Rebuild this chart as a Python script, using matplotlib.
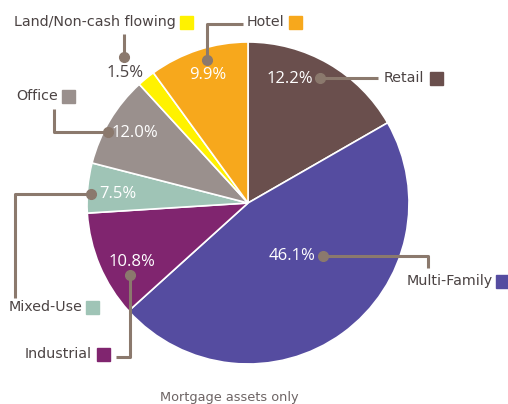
import matplotlib
matplotlib.use("Agg")
import matplotlib.pyplot as plt
from matplotlib.patches import Rectangle

categories = ["Retail", "Multi-Family", "Industrial", "Mixed-Use", "Office",
              "Land/Non-cash flowing", "Hotel"]
# printed percentages
pct_labels = ["12.2%", "46.1%", "10.8%", "7.5%", "12.0%", "1.5%", "9.9%"]
# slice sizes as drawn in the picture (the artwork is not exactly to scale)
slice_shares = [16.7, 46.6, 10.7, 5.0, 9.2, 1.8, 10.0]
colors = ["#6a4f4d", "#554ca0", "#80256f", "#9fc4b6", "#9a908d", "#fff200", "#f7a81c"]
footer = "Mortgage assets only"

W, H = 508, 404
fig = plt.figure(figsize=(W / 100, H / 100), dpi=100)
ax = fig.add_axes([0, 0, 1, 1])

def Y(y):
    return H - y

LBL_FONT = "DejaVu Sans"
PCT_FONT = "Open Sans"
TXT = "#4b4343"
LEAD = "#8b796d"

ax.pie(slice_shares, colors=colors, startangle=90, counterclock=False,
       center=(248, Y(203)), radius=161,
       wedgeprops=dict(edgecolor="white", linewidth=1.2), frame=True)
ax.set_xlim(0, W)
ax.set_ylim(0, H)
ax.set_aspect("equal")
ax.axis("off")

def leader(pts, dot):
    xs = [p[0] for p in pts]
    ys = [Y(p[1]) for p in pts]
    ax.plot(xs, ys, color=LEAD, lw=2.2, solid_capstyle="butt", zorder=5)
    ax.plot([dot[0]], [Y(dot[1])], "o", color=LEAD, ms=7, zorder=6)

def legend_label(text, x_text, y, box_x, color, ha="right"):
    ax.text(x_text, Y(y), text, ha=ha, va="center", fontsize=10.3,
            family=LBL_FONT, color=TXT, zorder=7)
    ax.add_patch(Rectangle((box_x, Y(y) - 6.5), 13, 13, color=color, zorder=7))

def pct(text, x, y, color="white"):
    ax.text(x, Y(y), text, ha="left", va="center", fontsize=12, family=PCT_FONT,
            color=color, zorder=7)

# Retail
pct(pct_labels[0], 267, 79)
leader([(320, 78), (378, 78)], (320, 78))
legend_label(categories[0], 384, 78, 430, colors[0], ha="left")

# Multi-Family
pct(pct_labels[1], 269, 256)
leader([(323, 256), (428, 256), (428, 268)], (323, 256))
legend_label(categories[1], 493, 281, 496, colors[1])

# Industrial
pct(pct_labels[2], 109, 262)
leader([(130, 275), (130, 357), (116, 357)], (130, 275))
legend_label(categories[2], 92, 354, 97, colors[2])

# Mixed-Use
pct(pct_labels[3], 99, 194)
leader([(91, 194), (15, 194), (15, 298)], (91, 194))
legend_label(categories[3], 83, 307, 86, colors[3])

# Office
pct(pct_labels[4], 112, 133)
leader([(54, 109), (54, 132), (108, 132)], (108, 132))
legend_label(categories[4], 58, 96, 62, colors[4])

# Land
pct(pct_labels[5], 107, 73, color=TXT)
leader([(124, 34), (124, 57)], (124, 57))
legend_label(categories[5], 176, 22, 180, colors[5])

# Hotel
pct(pct_labels[6], 189, 75)
leader([(243, 24), (207, 24), (207, 60)], (207, 60))
legend_label(categories[6], 247, 22, 289, colors[6], ha="left")

ax.text(229, Y(398), footer, ha="center", va="center", fontsize=9.3,
        family=LBL_FONT, color="#6d6464")

fig.savefig("out.png", dpi=100)
